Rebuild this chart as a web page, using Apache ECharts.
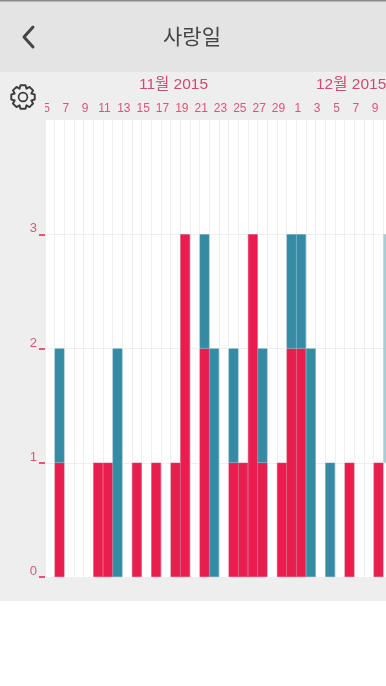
<!DOCTYPE html>
<html>
<head>
<meta charset="utf-8">
<style>
html, body { margin: 0; padding: 0; background: #fff; overflow: hidden; }
#main { width: 386px; height: 686px; }
</style>
<script src="https://cdn.jsdelivr.net/npm/echarts@6/dist/echarts.min.js"></script>
</head>
<body>
<div id="main"></div>
<script>
// 하루 단위 막대, 11/5 부터 12/10 까지
var days = [5, 6, 7, 8, 9, 10, 11, 12, 13, 14, 15, 16, 17, 18, 19, 20, 21, 22, 23, 24, 25, 26, 27, 28, 29, 30,
	1, 2, 3, 4, 5, 6, 7, 8, 9, 10];
var tickDays = days.concat([11]);
var redValues = [0, 1, 0, 0, 0, 1, 1, 0, 0, 1, 0, 1, 0, 1, 3, 0, 2, 0, 0, 1, 1, 3, 1, 0, 1, 2,
	2, 0, 0, 0, 0, 1, 0, 0, 1, 0];
var tealValues = [0, 1, 0, 0, 0, 0, 0, 2, 0, 0, 0, 0, 0, 0, 0, 0, 1, 2, 0, 1, 0, 0, 1, 0, 0, 1,
	1, 2, 0, 1, 0, 0, 0, 0, 0, 0];
// 오른쪽 끝에 잘려서 1~3 구간만 보이는 막대
var edgeBase = [0, 0, 0, 0, 0, 0, 0, 0, 0, 0, 0, 0, 0, 0, 0, 0, 0, 0, 0, 0, 0, 0, 0, 0, 0, 0,
	0, 0, 0, 0, 0, 0, 0, 0, 0, 1];
var edgeTeal = [0, 0, 0, 0, 0, 0, 0, 0, 0, 0, 0, 0, 0, 0, 0, 0, 0, 0, 0, 0, 0, 0, 0, 0, 0, 0,
	0, 0, 0, 0, 0, 0, 0, 0, 0, 2];
var yTicks = [0, 1, 2, 3];
var monthLabels = ["11월 2015", "12월 2015"];
var title = "사랑일";

var RED = "#e91e4f";
var TEAL = "#358ba3";
var LABEL = "#d9567a";
var FONT = "'Liberation Sans', 'Noto Sans CJK KR', sans-serif";

// 0 은 막대를 안 그린다
function skipZero(arr) {
	return arr.map(function (v) {
		return v === 0 ? null : v;
	});
}

// 설정 톱니바퀴 외곽선
function gearPoints(cx, cy, outer, inner, teeth) {
	var pts = [];
	var step = Math.PI * 2 / teeth;
	for (var i = 0; i < teeth; i++) {
		var a = i * step - Math.PI / 2;
		[[-0.5, inner], [-0.27, outer], [0.27, outer], [0.5, inner]].forEach(function (p) {
			pts.push([cx + p[1] * Math.cos(a + p[0] * step), cy + p[1] * Math.sin(a + p[0] * step)]);
		});
	}
	return pts;
}

var myChart = echarts.init(document.getElementById("main"), null, { renderer: "canvas" });
var option = {
	animation: false,
	backgroundColor: "#fff",
	textStyle: { fontFamily: FONT },
	grid: {
		left: 45,
		top: 120,
		width: 348,
		height: 457,
		outerBoundsMode: "none",
		show: true,
		backgroundColor: "#fff",
		borderWidth: 0
	},
	xAxis: [
		{
			type: "category",
			data: days,
			axisLine: { show: false },
			axisTick: { show: false },
			axisLabel: { show: false },
			splitLine: { show: true, interval: 0, lineStyle: { color: "#efeff1", width: 1 } }
		},
		{
			// 날짜 글자는 칸 경계에 찍힌다
			type: "category",
			position: "top",
			boundaryGap: false,
			data: tickDays,
			axisLine: { show: false },
			axisTick: { show: false },
			splitLine: { show: false },
			axisLabel: {
				interval: 1,
				color: LABEL,
				fontSize: 12,
				margin: 5,
				padding: [0, 0, 0, 3],
				showMinLabel: true,
				hideOverlap: false
			}
		}
	],
	yAxis: {
		type: "value",
		min: 0,
		max: 4,
		interval: 1,
		axisLine: { show: false },
		axisTick: { show: true, length: 6, customValues: yTicks, lineStyle: { color: RED, width: 1.5 } },
		axisLabel: {
			color: LABEL,
			fontSize: 13,
			margin: 8,
			verticalAlign: "bottom",
			lineHeight: 11,
			customValues: yTicks
		},
		splitLine: { lineStyle: { color: "#efeff1", width: 1 } }
	},
	series: [
		{
			type: "bar",
			stack: "total",
			data: skipZero(edgeBase),
			barWidth: "100%",
			itemStyle: { color: "transparent" },
			silent: true
		},
		{
			type: "bar",
			stack: "total",
			data: skipZero(redValues),
			barWidth: "100%",
			itemStyle: { color: RED, borderColor: "#d3416a", borderWidth: 0.5 },
			silent: true
		},
		{
			type: "bar",
			stack: "total",
			data: skipZero(tealValues),
			barWidth: "100%",
			itemStyle: { color: TEAL, borderColor: "#5a9fb3", borderWidth: 0.5 },
			silent: true
		},
		{
			type: "bar",
			stack: "total",
			data: skipZero(edgeTeal),
			barWidth: "100%",
			itemStyle: { color: "#a9cdd6" },
			silent: true
		},
		{
			// 위쪽 날짜 축이 그려지도록 하는 빈 시리즈
			type: "line",
			xAxisIndex: 1,
			data: [],
			silent: true
		}
	],
	graphic: [
		{ type: "rect", z: -1, silent: true, shape: { x: 0, y: 72, width: 386, height: 529 }, style: { fill: "#eeeeee" } },
		{ type: "rect", z: -1, silent: true, shape: { x: 0, y: 0, width: 386, height: 72 }, style: { fill: "#e4e4e4" } },
		{ type: "rect", z: 1, silent: true, shape: { x: 0, y: 0, width: 386, height: 1.5 }, style: { fill: "#8a8a8a" } },
		// 왼쪽 끝에서 잘린 "5"
		{ type: "rect", z: 100, silent: true, shape: { x: 0, y: 100, width: 45, height: 19 }, style: { fill: "#eeeeee" } },
		{ type: "text", z: 101, silent: true, x: 192, y: 36, style: { text: title, fill: "#444", font: "21px 'Noto Sans CJK KR'", textAlign: "center", textVerticalAlign: "middle" } },
		{ type: "text", z: 101, silent: true, x: 173.5, y: 85, style: { text: monthLabels[0], fill: "#cf4a70", font: "15.5px " + FONT, textAlign: "center", textVerticalAlign: "middle" } },
		{ type: "text", z: 101, silent: true, x: 316, y: 85, style: { text: monthLabels[1], fill: "#cf4a70", font: "15.5px " + FONT, textAlign: "left", textVerticalAlign: "middle" } },
		// 뒤로 가기
		{ type: "polyline", z: 101, silent: true, shape: { points: [[33, 27], [24, 37], [33, 47]] }, style: { stroke: "#444", lineWidth: 3, fill: null, lineCap: "round", lineJoin: "round" } },
		// 설정 톱니바퀴
		{ type: "polygon", z: 101, silent: true, shape: { points: gearPoints(23, 97, 12, 9, 8) }, style: { fill: "none", stroke: "#3c3c3c", lineWidth: 1.9, lineJoin: "round" } },
		{ type: "circle", z: 101, silent: true, shape: { cx: 23, cy: 97, r: 4.4 }, style: { fill: "none", stroke: "#3c3c3c", lineWidth: 1.7 } }
	]
};
myChart.setOption(option);
window.addEventListener("resize", myChart.resize);
</script>
</body>
</html>
